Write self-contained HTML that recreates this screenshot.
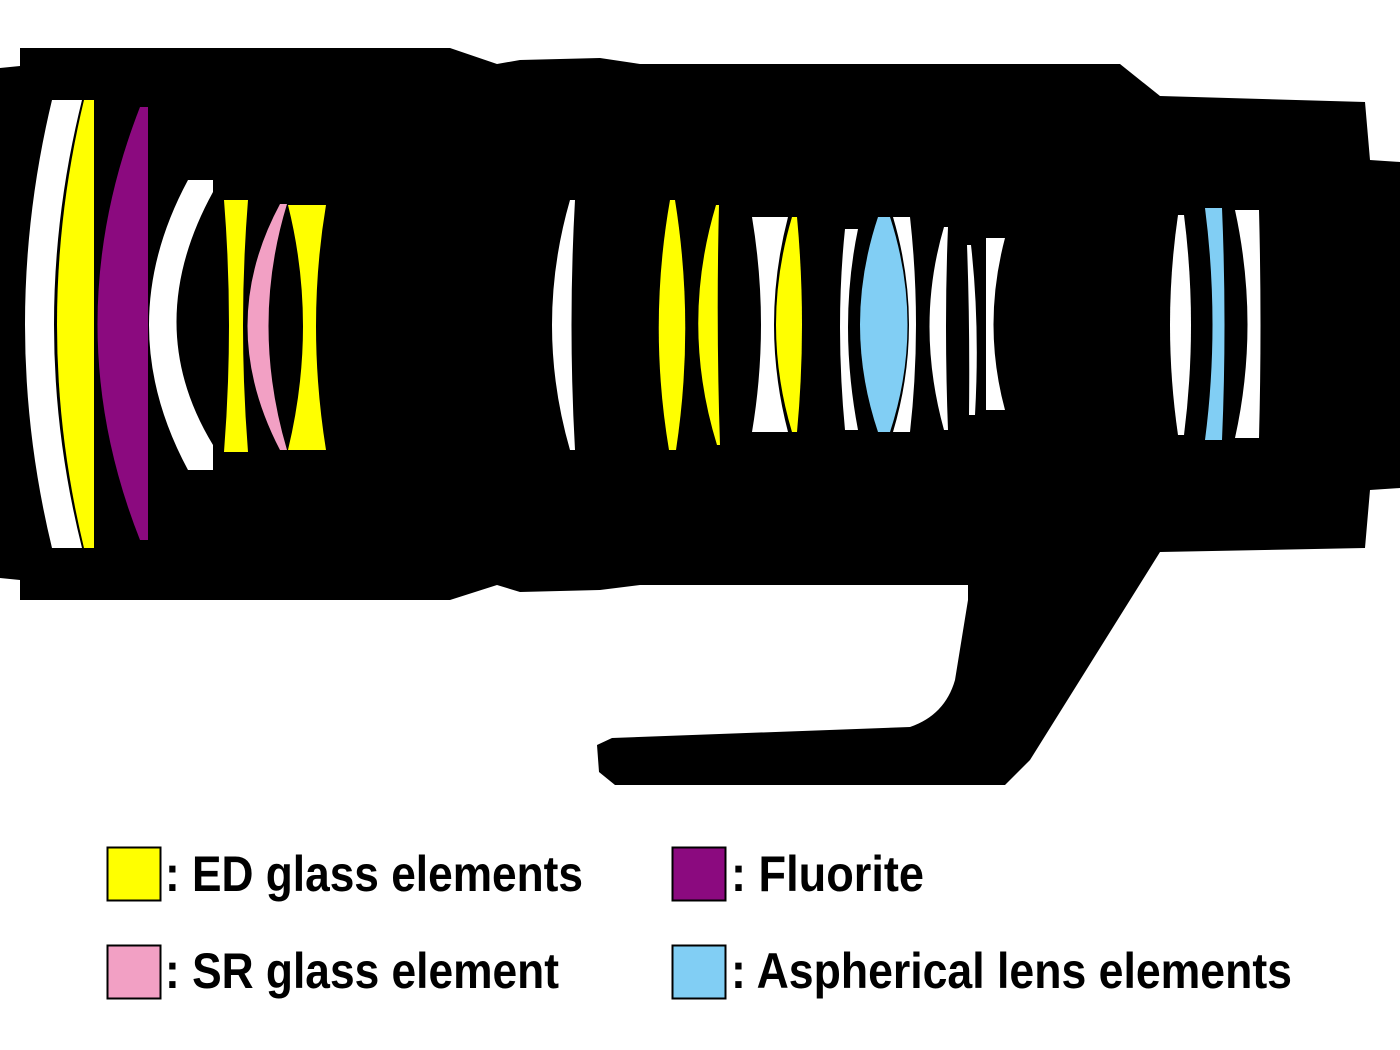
<!DOCTYPE html>
<html><head><meta charset="utf-8"><style>
html,body{margin:0;padding:0;background:#fff;}
svg{display:block;}
text{font-family:"Liberation Sans",sans-serif;font-weight:bold;font-size:50px;fill:#000;}
</style></head><body>
<svg width="1400" height="1050" viewBox="0 0 1400 1050" xmlns="http://www.w3.org/2000/svg">
<path fill="#000" d="M0,68 L20,66 L20,48 L450,48 L497,64 L520,60 L600,58 L640,64 L1120,64 L1160,96 L1365,102 L1370,160 L1400,162 L1400,488 L1370,490 L1365,548 L1160,552 L1030,760 L1005,785 L615,785 L599,772 L597,745 L612,738 L910,727 Q945,715 955,680 L968,600 L968,585 L640,585 L600,590 L520,592 L497,585 L450,600 L20,600 L20,580 L0,578 Z"/>
<g stroke="none">
<path fill="#fff" d="M52,100 L82,100 Q26,325 82,548 L52,548 Q-2,325 52,100 Z"/>
<path fill="#ff0" d="M84,100 L94,100 L94,548 L84,548 Q30,325 84,100 Z"/>
<path fill="#8b0a7f" d="M140,107 L148,107 L148,540 L140,540 Q55,325 140,107 Z"/>
<path fill="#fff" d="M188,180 L213,180 L213,192 Q140,325 213,445 L213,470 L188,470 Q110,325 188,180 Z"/>
<path fill="#ff0" d="M224,200 L248,200 Q238,325 248,452 L224,452 Q234,325 224,200 Z"/>
<path fill="#f2a0c4" d="M280,204 L287,204 Q250,325 287,450 L280,450 Q215,325 280,204 Z"/>
<path fill="#ff0" d="M288,205 L326,205 Q306,325 326,450 L288,450 Q318,325 288,205 Z"/>
<path fill="#fff" d="M570,200 L575,200 Q568,325 575,450 L570,450 Q534,325 570,200 Z"/>
<path fill="#ff0" d="M670,200 L675,200 Q695,325 676,450 L669,450 Q648,325 670,200 Z"/>
<path fill="#ff0" d="M716,205 L719,205 Q716,325 720,445 L717,445 Q680,325 716,205 Z"/>
<path fill="#fff" d="M752,217 L788,217 Q760,325 788,432 L752,432 Q770,325 752,217 Z"/>
<path fill="#ff0" d="M792,217 L797,217 Q807,325 797,432 L792,432 Q760,325 792,217 Z"/>
<path fill="#fff" d="M845,229 L858,229 Q838,325 858,430 L845,430 Q835,325 845,229 Z"/>
<path fill="#81cef4" d="M878,217 L890,217 Q925,325 890,432 L878,432 Q842,325 878,217 Z"/>
<path fill="#fff" d="M893,217 L910,217 Q922,325 910,432 L893,432 Q925,325 893,217 Z"/>
<path fill="#fff" d="M944,227 L948,227 Q944,325 948,430 L944,430 Q915,325 944,227 Z"/>
<path fill="#fff" d="M967,245 L971,245 Q980,325 975,415 L969,415 Q970,325 967,245 Z"/>
<path fill="#fff" d="M986,238 L1005,238 Q982,325 1005,410 L986,410 Z"/>
<path fill="#fff" d="M1178,215 L1184,215 Q1198,325 1184,435 L1178,435 Q1162,325 1178,215 Z"/>
<path fill="#81cef4" d="M1205,208 L1222,208 Q1227,325 1222,440 L1205,440 Q1220,325 1205,208 Z"/>
<path fill="#fff" d="M1235,210 L1259,210 Q1262,325 1259,438 L1235,438 Q1260,325 1235,210 Z"/>
</g>
<rect x="107.5" y="847.5" width="53" height="53" fill="#ff0" stroke="#000" stroke-width="2"/>
<rect x="672.5" y="847.5" width="53" height="53" fill="#8b0a7f" stroke="#000" stroke-width="2"/>
<rect x="107.5" y="945.5" width="53" height="53" fill="#f2a0c4" stroke="#000" stroke-width="2"/>
<rect x="672.5" y="945.5" width="53" height="53" fill="#81cef4" stroke="#000" stroke-width="2"/>
<text x="165" y="891" textLength="418" lengthAdjust="spacingAndGlyphs">: ED glass elements</text>
<text x="731" y="891" textLength="193" lengthAdjust="spacingAndGlyphs">: Fluorite</text>
<text x="165" y="988" textLength="394" lengthAdjust="spacingAndGlyphs">: SR glass element</text>
<text x="731" y="988" textLength="561" lengthAdjust="spacingAndGlyphs">: Aspherical lens elements</text>
</svg>
</body></html>
